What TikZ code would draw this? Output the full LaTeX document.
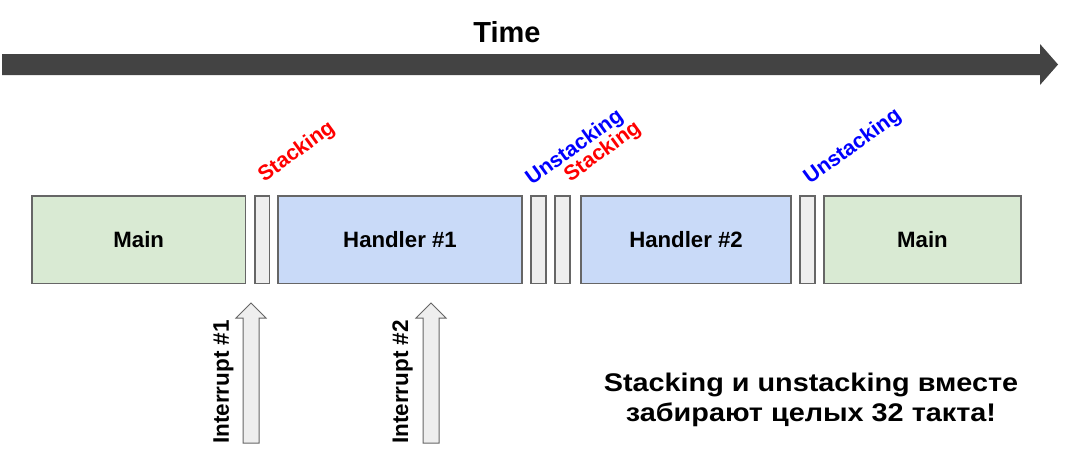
\documentclass[tikz,border=0pt]{standalone}
\usepackage{fontspec}
\setmainfont{Liberation Sans}
\newfontfamily\notefont[FakeStretch=1.13]{Liberation Sans}
\definecolor{mainfill}{HTML}{D9EAD3}
\definecolor{handfill}{HTML}{C9DAF8}
\definecolor{smallfill}{HTML}{EEEEEE}
\definecolor{edge}{HTML}{666666}
\definecolor{timefill}{HTML}{434343}
\definecolor{stackred}{HTML}{FF0000}
\definecolor{unstackblue}{HTML}{0000FF}
\begin{document}
\begin{tikzpicture}[x=1pt,y=-1pt,
  block/.style={draw=edge,line width=1.3pt,inner sep=0pt,minimum height=87.5pt,
    font=\fontsize{22.2}{26}\selectfont\bfseries},
  mainbox/.style={block,fill=mainfill},
  handbox/.style={block,fill=handfill},
  smallbox/.style={block,fill=smallfill},
  stacklbl/.style={rotate=36,inner sep=0pt,text=stackred,font=\fontsize{21.2}{25}\selectfont\bfseries},
  unstacklbl/.style={rotate=36,inner sep=0pt,text=unstackblue,font=\fontsize{21.2}{25}\selectfont\bfseries},
  intlbl/.style={rotate=90,inner sep=0pt,font=\fontsize{22.5}{26}\selectfont\bfseries},
  intarrow/.style={draw=edge,line width=1pt,fill=smallfill,line join=miter}
]
\useasboundingbox (0,0) rectangle (1075,463);
\fill[white] (0,0) rectangle (1075,463);

% Time arrow
\fill[timefill] (2,54) -- (1040,54) -- (1040,44) -- (1058,64.5) -- (1040,85) -- (1040,75) -- (2,75) -- cycle;
\node[font=\fontsize{29}{34}\selectfont\bfseries] (time) at (507,32) {Time};

% Boxes
\node[mainbox,minimum width=213.5pt] (m1) at (138.75,239.75) {Main};
\node[smallbox,minimum width=14.5pt] (s1) at (262.25,239.75) {};
\node[handbox,minimum width=244pt] (h1) at (400,239.75) {Handler \#1};
\node[smallbox,minimum width=15pt] (s2) at (538.5,239.75) {};
\node[smallbox,minimum width=15pt] (s3) at (562.5,239.75) {};
\node[handbox,minimum width=210pt] (h2) at (686,239.75) {Handler \#2};
\node[smallbox,minimum width=15pt] (s4) at (807.5,239.75) {};
\node[mainbox,minimum width=197pt] (m2) at (922.5,239.75) {Main};

% Rotated labels
\node[stacklbl] (st1) at (297,152) {Stacking};
\node[unstacklbl] (us1) at (575,148) {Unstacking};
\node[stacklbl] (st2) at (603,152) {Stacking};
\node[unstacklbl] (us2) at (853,147) {Unstacking};

% Interrupt arrows
\draw[intarrow] (243,443) -- (243,318) -- (236,318) -- (251,303) -- (266,318) -- (259,318) -- (259,443) -- cycle;
\draw[intarrow] (423,443) -- (423,318) -- (416,318) -- (431,303) -- (446,318) -- (439,318) -- (439,443) -- cycle;
\node[intlbl] (i1) at (223.5,382) {Interrupt \#1};
\node[intlbl] (i2) at (402.5,382) {Interrupt \#2};

% Bottom note
\node[align=center,font=\notefont\fontsize{25.5}{30}\selectfont\bfseries] (note) at (811,400)
  {Stacking и unstacking вместе\\забирают целых 32 такта!};
\end{tikzpicture}
\end{document}
